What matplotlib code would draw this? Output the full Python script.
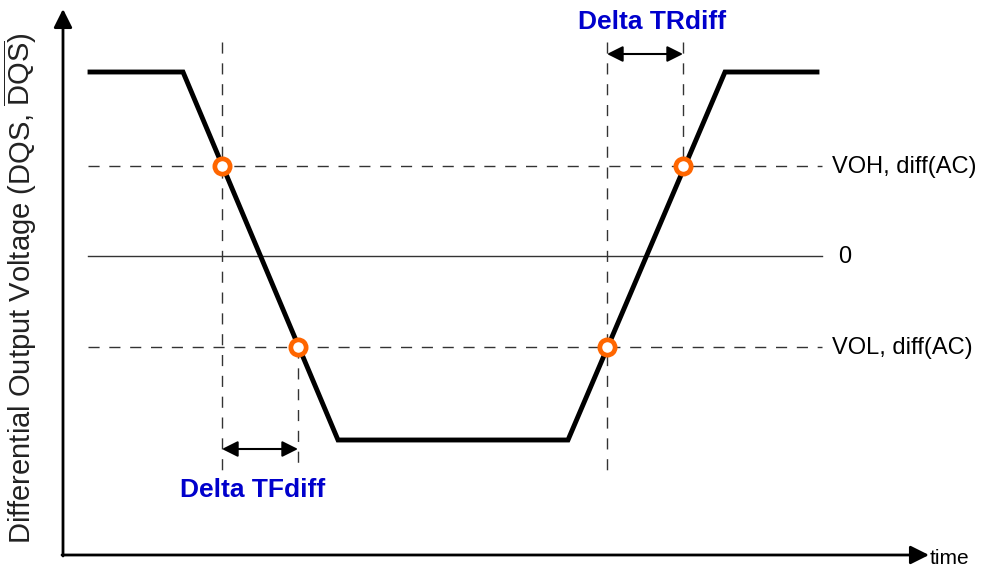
#Differential output slew rate timing diagram (DQS, DQS#)
import matplotlib.pyplot as plt

# waveform corners (drawing units, y grows downward)
wave_t = [90, 183, 338, 568, 725, 817]
wave_v = [72, 72, 440, 440, 72, 72]

# reference levels
level_y = [166, 256, 347]
level_names = ['VOH, diff(AC)', '0', 'VOL, diff(AC)']
level_styles = ['--', '-', '--']

# crossing points of the waveform with VOH / VOL
cross_t = [222, 298, 607, 683]
cross_v = [166, 347, 347, 166]

# vertical marker lines (x, top, bottom)
vline_x = [222, 298, 607, 683]
vline_top = [42, 347, 42, 42]
vline_bot = [470, 465, 470, 166]

plt.rcParams['font.family'] = ['Liberation Sans', 'DejaVu Sans']

fig = plt.figure(figsize=(9.81, 5.69), dpi=100)
ax = fig.add_axes([0, 0, 1, 1])
ax.set_xlim(0, 981)
ax.set_ylim(569, 0)
ax.axis('off')

# axes with arrows
axis_arrow = dict(arrowstyle='-|>,head_length=0.8,head_width=0.4', lw=2, color='black',
                  mutation_scale=14, shrinkA=0, shrinkB=0)
ax.annotate('', xy=(63, 9), xytext=(63, 556), arrowprops=axis_arrow)
ax.annotate('', xy=(929, 555), xytext=(62, 555), arrowprops=axis_arrow)
ax.text(930, 558, 'time', fontsize=15, va='center', ha='left')
ax.text(20, 288, r'Differential Output Voltage (DQS, $\mathregular{\overline{DQS}}$)',
        fontsize=21, rotation=90, va='center', ha='center', color='#222222')

# levels
for y, name, ls in zip(level_y, level_names, level_styles):
    ax.plot([88, 822], [y, y], ls=ls, color='#333333', lw=1, dashes=(8, 7) if ls == '--' else (None, None))
    ax.text(838 if name == '0' else 832, y + 1, name, fontsize=17, va='center', ha='left')

# vertical markers
for x, t, b in zip(vline_x, vline_top, vline_bot):
    ax.plot([x, x], [t, b], color='#333333', lw=1, dashes=(8, 7))

# waveform
ax.plot(wave_t, wave_v, color='black', lw=3.5, solid_joinstyle='miter')

# crossing markers
ax.plot(cross_t, cross_v, 'o', ms=11, mfc='white', mec='#FF6600', mew=3.4, zorder=5)

# delta arrows
arrow = dict(arrowstyle='<|-|>,head_length=0.8,head_width=0.4', lw=1.5, color='black',
             mutation_scale=12, shrinkA=0, shrinkB=0)
ax.annotate('', xy=(222, 449), xytext=(298, 449), arrowprops=arrow)
ax.annotate('', xy=(607, 54), xytext=(683, 54), arrowprops=arrow)
ax.text(253, 490, 'Delta TFdiff', fontsize=19, fontweight='bold', color='#0000CC',
        ha='center', va='center')
ax.text(652, 22, 'Delta TRdiff', fontsize=19, fontweight='bold', color='#0000CC',
        ha='center', va='center')

plt.savefig('out.png', dpi=100)
